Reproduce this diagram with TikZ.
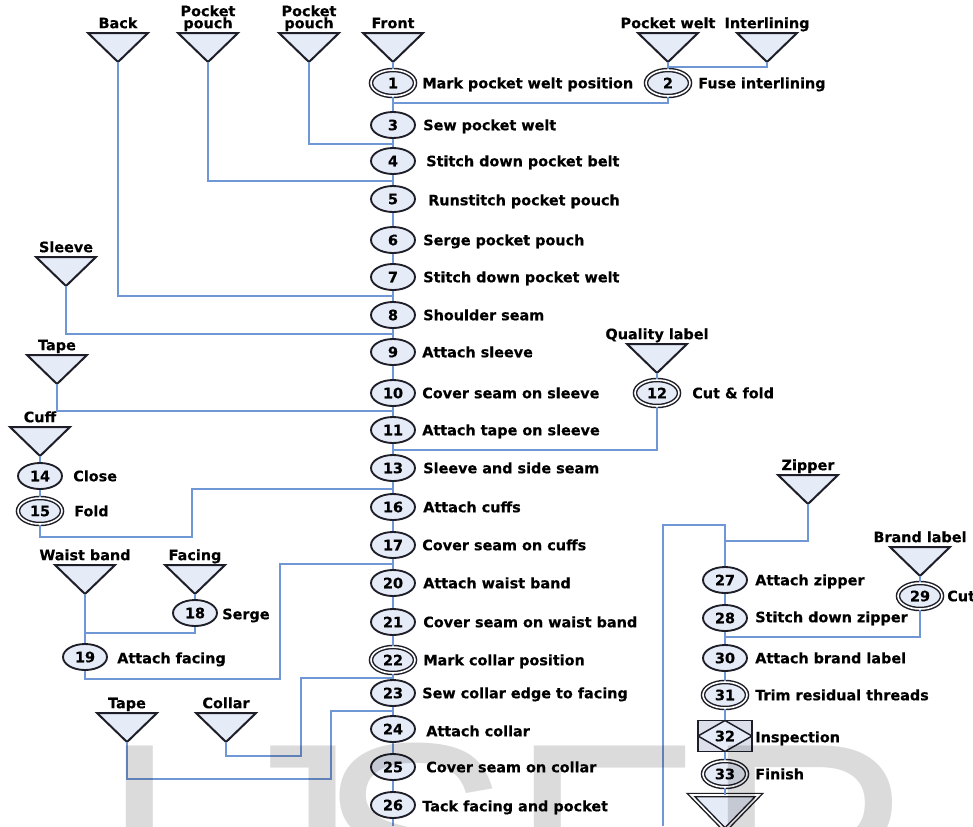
\documentclass[tikz,border=0pt]{standalone}
\usepackage{fontspec}
\newfontfamily\labfont{DejaVu Sans}[BoldFeatures={FakeBold=0.4}]
\newfontfamily\wmfont{Liberation Sans}
\usetikzlibrary{shapes.geometric}
\definecolor{nodefill}{HTML}{E6EBF8}
\definecolor{linkblue}{HTML}{6F97D6}
\definecolor{inkdark}{HTML}{1E1E28}
\definecolor{boxfill}{HTML}{DCE0EA}
\tikzset{
  conn/.style={draw=linkblue, line width=2.1pt},
  opnode/.style={ellipse, draw=inkdark, line width=1.4pt, fill=nodefill,
    minimum width=33pt, minimum height=19.5pt, inner sep=0pt,
    font=\labfont\bfseries\fontsize{10.8}{12}\selectfont, text=black},
  opdbl/.style={opnode, double=white, double distance=1.2pt, line width=1.1pt},
  inspbox/.style={rectangle, draw=inkdark, line width=1.2pt, fill=boxfill,
    minimum width=40.5pt, minimum height=23.25pt, inner sep=0pt,
    font=\labfont\bfseries\fontsize{10.8}{12}\selectfont, text=black,
    path picture={\draw[line width=1.1pt, draw=inkdark, fill=nodefill]
      (path picture bounding box.north) -- (path picture bounding box.east) --
      (path picture bounding box.south) -- (path picture bounding box.west) -- cycle;}},
  lab/.style={anchor=west, inner sep=0pt, text height=7.9pt, text depth=0pt,
    font=\labfont\bfseries\fontsize{10.8}{12}\selectfont, text=black},
  toplab/.style={anchor=south, inner sep=0pt, align=center, text depth=1.9pt,
    font=\labfont\bfseries\fontsize{10.8}{9}\selectfont, text=black},
  tri/.style={draw=inkdark, line width=1.5pt, fill=nodefill, line join=miter},
  wmark/.style={anchor=base west, inner sep=0pt, text=black, text opacity=0.14,
    font=\wmfont\fontsize{217.5}{217.5}\selectfont},
}
% inverted triangle: name, x, ytop, label
\newcommand\invtri[4]{%
  \draw[tri] ({#2-30},#3) -- ({#2+30},#3) -- (#2,{#3+29}) -- cycle;
  \coordinate (#1) at (#2,{#3+29});
  \node[toplab] (#1-lab) at (#2,{#3-2}) {#4};}
\begin{document}
\begin{tikzpicture}[x=0.75pt,y=-0.75pt]
\useasboundingbox (0,0) rectangle (973,826);

% ---------- triangles (materials) ----------
\invtri{tback}{118}{33}{Back}
\invtri{tppa}{208}{33}{Pocket\\pouch}
\invtri{tppb}{309}{33}{Pocket\\pouch}
\invtri{tfront}{393}{33}{Front}
\invtri{tpwelt}{668}{33}{Pocket welt}
\invtri{tinter}{767}{33}{Interlining}
\invtri{tsleeve}{66}{257}{Sleeve}
\invtri{ttapea}{57}{355}{Tape}
\invtri{tqual}{657}{344}{Quality label}
\invtri{tcuff}{40}{427}{Cuff}
\invtri{tzip}{808}{475}{Zipper}
\invtri{tbrand}{920}{547}{Brand label}
\invtri{twaist}{85}{565}{Waist band}
\invtri{tfacing}{195}{565}{Facing}
\invtri{ttapeb}{127}{713}{Tape}
\invtri{tcollar}{226}{713}{Collar}

% ---------- main column ----------
\node[opdbl]  (c1)  at (393,83)  {1};
\node[opnode] (c3)  at (393,125) {3};
\node[opnode] (c4)  at (393,161) {4};
\node[opnode] (c5)  at (393,199) {5};
\node[opnode] (c6)  at (393,240) {6};
\node[opnode] (c7)  at (393,277) {7};
\node[opnode] (c8)  at (393,315) {8};
\node[opnode] (c9)  at (393,352) {9};
\node[opnode] (c10) at (393,393) {10};
\node[opnode] (c11) at (393,430) {11};
\node[opnode] (c13) at (393,468) {13};
\node[opnode] (c16) at (393,507) {16};
\node[opnode] (c17) at (393,545) {17};
\node[opnode] (c20) at (393,583) {20};
\node[opnode] (c21) at (393,622) {21};
\node[opdbl]  (c22) at (393,660) {22};
\node[opnode] (c23) at (393,693) {23};
\node[opnode] (c24) at (393,729) {24};
\node[opnode] (c25) at (393,767) {25};
\node[opnode] (c26) at (393,805) {26};

\node[lab] (l1)  at (422,83)  {Mark pocket welt position};
\node[lab] (l3)  at (423,125) {Sew pocket welt};
\node[lab] (l4)  at (426,161) {Stitch down pocket belt};
\node[lab] (l5)  at (428,200) {Runstitch pocket pouch};
\node[lab] (l6)  at (423,240) {Serge pocket pouch};
\node[lab] (l7)  at (423,277) {Stitch down pocket welt};
\node[lab] (l8)  at (423,315) {Shoulder seam};
\node[lab] (l9)  at (422,352) {Attach sleeve};
\node[lab] (l10) at (422,393) {Cover seam on sleeve};
\node[lab] (l11) at (422,430) {Attach tape on sleeve};
\node[lab] (l13) at (423,468) {Sleeve and side seam};
\node[lab] (l16) at (423,507) {Attach cuffs};
\node[lab] (l17) at (422,545) {Cover seam on cuffs};
\node[lab] (l20) at (423,583) {Attach waist band};
\node[lab] (l21) at (423,622) {Cover seam on waist band};
\node[lab] (l22) at (423,660) {Mark collar position};
\node[lab] (l23) at (422,693) {Sew collar edge to facing};
\node[lab] (l24) at (426,731) {Attach collar};
\node[lab] (l25) at (426,767) {Cover seam on collar};
\node[lab] (l26) at (422,806) {Tack facing and pocket};

% ---------- side operations ----------
\node[opdbl]  (c2)  at (668,83)  {2};
\node[lab]    (l2)  at (698,83)  {Fuse interlining};
\node[opdbl]  (c12) at (657,393) {12};
\node[lab]    (l12) at (692,393) {Cut \& fold};
\node[opnode] (c14) at (40,476)  {14};
\node[lab]    (l14) at (73,476)  {Close};
\node[opdbl]  (c15) at (40,511)  {15};
\node[lab]    (l15) at (74,511)  {Fold};
\node[opnode] (c18) at (195,613) {18};
\node[lab]    (l18) at (222,614) {Serge};
\node[opnode] (c19) at (85,657)  {19};
\node[lab]    (l19) at (117,658) {Attach facing};

% ---------- right column ----------
\node[opnode] (c27) at (725,580) {27};
\node[lab]    (l27) at (755,580) {Attach zipper};
\node[opnode] (c28) at (725,618) {28};
\node[lab]    (l28) at (755,617) {Stitch down zipper};
\node[opdbl]  (c29) at (920,596) {29};
\node[lab]    (l29) at (947,596) {Cut};
\node[opnode] (c30) at (725,658) {30};
\node[lab]    (l30) at (755,658) {Attach brand label};
\node[opdbl]  (c31) at (725,695) {31};
\node[lab]    (l31) at (755,695) {Trim residual threads};
\node[inspbox] (c32) at (725,736) {32};
\node[lab]    (l32) at (755,737) {Inspection};
\node[opdbl]  (c33) at (725,774) {33};
\node[lab]    (l33) at (755,774) {Finish};
\coordinate (tend) at (725,795);
\draw[tri, double=white, double distance=1.2pt, line width=1.1pt]
  (691,795) -- (759,795) -- (725,830) -- cycle;

% ---------- junction coordinates ----------
\coordinate (j2a)   at (668,67);
\coordinate (j13)   at (393,103);
\coordinate (j34)   at (393,144);
\coordinate (j45)   at (393,181);
\coordinate (j78)   at (393,296);
\coordinate (j89)   at (393,334);
\coordinate (j1011) at (393,411);
\coordinate (j1113) at (393,450);
\coordinate (k15)   at (192,537);
\coordinate (j1316) at (393,489);
\coordinate (j19)   at (85,633);
\coordinate (k19)   at (280,679);
\coordinate (j1720) at (393,564);
\coordinate (kc)    at (301,756);
\coordinate (j2223) at (393,678);
\coordinate (kt)    at (331,779);
\coordinate (j2324) at (393,711);
\coordinate (mbot)  at (393,826);
\coordinate (rbot)  at (663,826);
\coordinate (rtop)  at (663,525);
\coordinate (jz)    at (725,541);
\coordinate (j2830) at (725,637);

% ---------- connectors ----------
\draw[conn] (tfront) -- (c1);
\draw[conn] (c1) -- (c3) -- (c4) -- (c5) -- (c6) -- (c7) -- (c8) -- (c9) -- (c10)
  -- (c11) -- (c13) -- (c16) -- (c17) -- (c20) -- (c21) -- (c22) -- (c23) -- (c24)
  -- (c25) -- (c26) -- (mbot);
\draw[conn] (tpwelt) -- (c2);
\draw[conn] (tinter) |- (j2a);
\draw[conn] (c2) |- (j13);
\draw[conn] (tppb) |- (j34);
\draw[conn] (tppa) |- (j45);
\draw[conn] (tback) |- (j78);
\draw[conn] (tsleeve) |- (j89);
\draw[conn] (ttapea) |- (j1011);
\draw[conn] (tqual) -- (c12);
\draw[conn] (c12) |- (j1113);
\draw[conn] (tcuff) -- (c14);
\draw[conn] (c14) -- (c15);
\draw[conn] (c15) |- (k15) |- (j1316);
\draw[conn] (twaist) -- (c19);
\draw[conn] (tfacing) -- (c18);
\draw[conn] (c18) |- (j19);
\draw[conn] (c19) |- (k19) |- (j1720);
\draw[conn] (tcollar) |- (kc) |- (j2223);
\draw[conn] (ttapeb) |- (kt) |- (j2324);
\draw[conn] (rbot) -- (rtop) -| (c27);
\draw[conn] (tzip) |- (jz);
\draw[conn] (c27) -- (c28);
\draw[conn] (tbrand) -- (c29);
\draw[conn] (c29) |- (j2830);
\draw[conn] (c28) -- (c30) -- (c31) -- (c32) -- (c33) -- (tend);

% ---------- watermark ----------
\node[wmark] (wmi) at (99,945) {I};
\node[wmark] (wmj) at (212,945) {J};
\node[wmark] (wms) at (317,945) {SER};
\end{tikzpicture}
\end{document}
